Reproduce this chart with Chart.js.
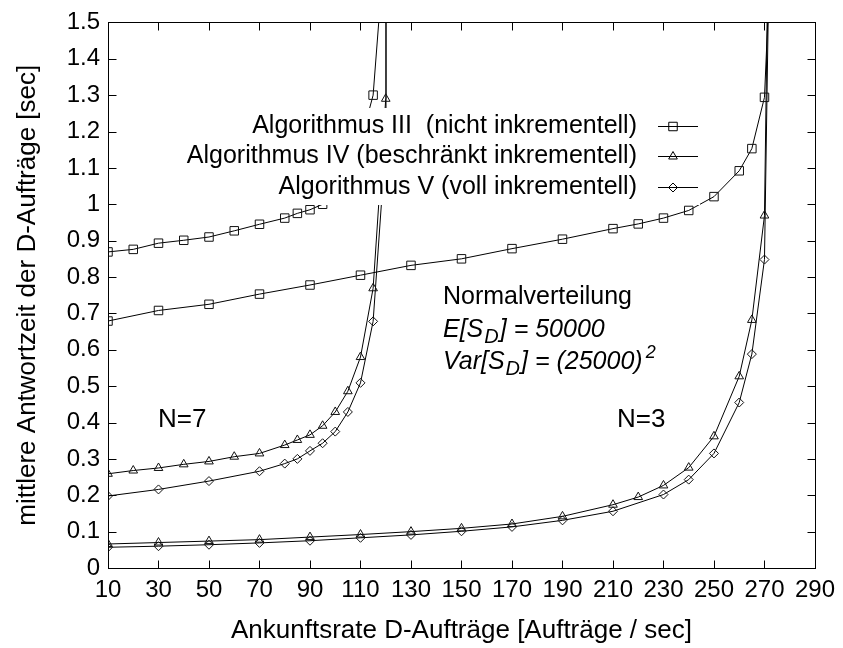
<!DOCTYPE html>
<html>
<head>
<meta charset="utf-8">
<script src="https://cdn.jsdelivr.net/npm/chart.js@4.4.0/dist/chart.umd.min.js"></script>
<style>
  html, body { margin: 0; padding: 0; background: #fff; }
  #wrap { width: 843px; height: 648px; }
</style>
</head>
<body>
<div id="wrap"><canvas id="antwortChart" width="843" height="648"></canvas></div>
<script>
// Werte
const xTicks = [10, 30, 50, 70, 90, 110, 130, 150, 170, 190, 210, 230, 250, 270, 290];

// N=7
const n7AlgIIIx = [10, 20, 30, 40, 50, 60, 70, 80, 85, 90, 95, 100, 105, 110, 115, 120];
const n7AlgIIIy = [0.869, 0.876, 0.893, 0.901, 0.910, 0.927, 0.945, 0.962, 0.975, 0.985, 1.00, 1.03, 1.08, 1.17, 1.30, 1.75];
const n7AlgIVx = [10, 20, 30, 40, 50, 60, 70, 80, 85, 90, 95, 100, 105, 110, 115, 120, 120.1];
const n7AlgIVy = [0.259, 0.268, 0.275, 0.285, 0.293, 0.306, 0.315, 0.338, 0.352, 0.366, 0.391, 0.429, 0.486, 0.580, 0.769, 1.29, 4];
const n7AlgVx = [10, 30, 50, 70, 80, 85, 90, 95, 100, 105, 110, 115, 120, 120.1];
const n7AlgVy = [0.198, 0.216, 0.239, 0.266, 0.287, 0.300, 0.322, 0.343, 0.375, 0.429, 0.509, 0.678, 1.17, 4];

// N=3
const n3AlgIIIx = [10, 30, 50, 70, 90, 110, 130, 150, 170, 190, 210, 220, 230, 240, 250, 260, 265, 270, 275];
const n3AlgIIIy = [0.679, 0.708, 0.725, 0.753, 0.778, 0.805, 0.832, 0.850, 0.878, 0.904, 0.933, 0.946, 0.962, 0.983, 1.021, 1.092, 1.153, 1.294, 2.1];
const n3AlgIVx = [10, 30, 50, 70, 90, 110, 130, 150, 170, 190, 210, 220, 230, 240, 250, 260, 265, 270, 273];
const n3AlgIVy = [0.066, 0.070, 0.074, 0.078, 0.085, 0.092, 0.100, 0.109, 0.121, 0.142, 0.174, 0.195, 0.227, 0.276, 0.362, 0.527, 0.682, 0.969, 2.5];
const n3AlgVx = [10, 30, 50, 70, 90, 110, 130, 150, 170, 190, 210, 230, 240, 250, 260, 265, 270, 273];
const n3AlgVy = [0.057, 0.060, 0.064, 0.069, 0.075, 0.083, 0.091, 0.101, 0.113, 0.131, 0.156, 0.202, 0.243, 0.315, 0.455, 0.588, 0.848, 2.2];

const legendLabels = [
    'Algorithmus III  (nicht inkrementell)',
    'Algorithmus IV (beschränkt inkrementell)',
    'Algorithmus V (voll inkrementell)'
];

const FONT = '"Liberation Sans", Arial, Helvetica, sans-serif';

const markerStyles = [
    { pointStyle: 'rect', radius: 6 },
    { pointStyle: 'triangle', radius: 5 },
    { pointStyle: 'rectRot', radius: 4.5 }
];

function toPoints(xs, ys) {
    return xs.map((x, i) => ({ x: x, y: ys[i] }));
}

function makeDataset(label, xs, ys, style) {
    return {
        label: label,
        data: toPoints(xs, ys),
        borderColor: '#000',
        borderWidth: 1,
        backgroundColor: 'rgba(0,0,0,0)',
        pointStyle: style.pointStyle,
        pointRadius: style.radius,
        pointHoverRadius: style.radius,
        pointBorderColor: '#111',
        pointBorderWidth: 1,
        pointBackgroundColor: 'rgba(0,0,0,0)',
        tension: 0,
        fill: false
    };
}

// eigene Marker fuer die Legende (wie Chart.js Formen)
function drawMarker(ctx, style, x, y) {
    const r = style.radius;
    ctx.beginPath();
    if (style.pointStyle === 'rect') {
        const s = Math.SQRT1_2 * r;
        ctx.rect(x - s, y - s, 2 * s, 2 * s);
    } else if (style.pointStyle === 'triangle') {
        ctx.moveTo(x, y - r);
        ctx.lineTo(x + Math.sin(2 * Math.PI / 3) * r, y - Math.cos(2 * Math.PI / 3) * r);
        ctx.lineTo(x + Math.sin(4 * Math.PI / 3) * r, y - Math.cos(4 * Math.PI / 3) * r);
        ctx.closePath();
    } else {
        ctx.moveTo(x - r, y);
        ctx.lineTo(x, y - r);
        ctx.lineTo(x + r, y);
        ctx.lineTo(x, y + r);
        ctx.closePath();
    }
    ctx.stroke();
}

// Legende mit weissem Hintergrund und Beschriftungen
const annotationPlugin = {
    id: 'annotations',
    afterDatasetsDraw(chart) {
        const ctx = chart.ctx;
        ctx.save();

        // opake Legendenbox
        ctx.fillStyle = '#fff';
        ctx.fillRect(180, 108, 520, 97);

        ctx.font = '25px ' + FONT;
        ctx.fillStyle = '#000';
        ctx.textAlign = 'right';
        ctx.textBaseline = 'middle';
        const rowsY = [126, 156, 187];
        legendLabels.forEach((txt, i) => {
            ctx.fillText(txt, 637, rowsY[i]);
            ctx.strokeStyle = '#000';
            ctx.lineWidth = 1;
            ctx.beginPath();
            ctx.moveTo(658, rowsY[i] + 0.5);
            ctx.lineTo(698, rowsY[i] + 0.5);
            ctx.stroke();
            drawMarker(ctx, markerStyles[i], 673, rowsY[i] + 0.5);
        });

        // Verteilungsangaben
        ctx.textAlign = 'left';
        ctx.font = '25px ' + FONT;
        ctx.fillText('Normalverteilung', 443, 297);

        const italic = 'italic 25px ' + FONT;
        const small = 'italic 20px ' + FONT;
        let x = 443;
        ctx.font = italic;
        ctx.fillText('E[S', x, 330);
        x += ctx.measureText('E[S').width + 1;
        ctx.font = small;
        ctx.fillText('D', x, 337);
        x += ctx.measureText('D').width + 1;
        ctx.font = italic;
        ctx.fillText('] = 50000', x, 330);

        x = 443;
        ctx.fillText('Var[S', x, 362);
        x += ctx.measureText('Var[S').width + 1;
        ctx.font = small;
        ctx.fillText('D', x, 369);
        x += ctx.measureText('D').width + 1;
        ctx.font = italic;
        ctx.fillText('] = (25000)', x, 362);
        x += ctx.measureText('] = (25000)').width;
        ctx.font = 'italic 18px ' + FONT;
        ctx.fillText('2', x + 3, 353);

        ctx.font = '26px ' + FONT;
        ctx.fillText('N=7', 158, 420);
        ctx.fillText('N=3', 617, 420);

        ctx.restore();
    }
};

// Rahmen mit nach innen gerichteten Tickmarken (gnuplot-Stil)
const framePlugin = {
    id: 'frame',
    afterDraw(chart) {
        const ctx = chart.ctx;
        const area = chart.chartArea;
        const xs = chart.scales.x;
        const ys = chart.scales.y;
        const tl = 8;
        ctx.save();
        ctx.strokeStyle = '#000';
        ctx.lineWidth = 1;
        const l = Math.round(area.left) + 0.5;
        const r = Math.round(area.right) + 0.5;
        const t = Math.round(area.top) + 0.5;
        const b = Math.round(area.bottom) + 0.5;
        ctx.strokeRect(l, t, r - l, b - t);
        ctx.beginPath();
        xs.ticks.forEach(tk => {
            const px = Math.round(xs.getPixelForValue(tk.value)) + 0.5;
            if (px <= l + 1 || px >= r - 1) return;
            ctx.moveTo(px, b); ctx.lineTo(px, b - tl);
            ctx.moveTo(px, t); ctx.lineTo(px, t + tl);
        });
        ys.ticks.forEach(tk => {
            const py = Math.round(ys.getPixelForValue(tk.value)) + 0.5;
            if (py <= t + 1 || py >= b - 1) return;
            ctx.moveTo(l, py); ctx.lineTo(l + tl, py);
            ctx.moveTo(r, py); ctx.lineTo(r - tl, py);
        });
        ctx.stroke();
        ctx.restore();
    }
};

const ctx = document.getElementById('antwortChart');

new Chart(ctx, {
    type: 'line',
    data: {
        datasets: [
            makeDataset('N=7 III', n7AlgIIIx, n7AlgIIIy, markerStyles[0]),
            makeDataset('N=7 IV', n7AlgIVx, n7AlgIVy, markerStyles[1]),
            makeDataset('N=7 V', n7AlgVx, n7AlgVy, markerStyles[2]),
            makeDataset('N=3 III', n3AlgIIIx, n3AlgIIIy, markerStyles[0]),
            makeDataset('N=3 IV', n3AlgIVx, n3AlgIVy, markerStyles[1]),
            makeDataset('N=3 V', n3AlgVx, n3AlgVy, markerStyles[2])
        ]
    },
    options: {
        responsive: false,
        animation: false,
        devicePixelRatio: 1,
        layout: {
            padding: { left: 0, top: 19, right: 23, bottom: 0 }
        },
        plugins: {
            legend: { display: false },
            tooltip: { enabled: false },
            title: { display: false }
        },
        scales: {
            x: {
                type: 'linear',
                min: 10,
                max: 290,
                afterBuildTicks: scale => {
                    scale.ticks = xTicks.map(v => ({ value: v }));
                },
                afterFit: scale => { scale.height = 80; },
                grid: { display: false, drawTicks: false },
                border: { display: false },
                ticks: {
                    autoSkip: false,
                    maxRotation: 0,
                    padding: 8,
                    color: '#000',
                    font: { family: FONT, size: 24 }
                },
                title: {
                    display: true,
                    text: 'Ankunftsrate D-Aufträge [Aufträge / sec]',
                    color: '#000',
                    font: { family: FONT, size: 26 },
                    padding: { top: 0, bottom: 2 }
                }
            },
            y: {
                type: 'linear',
                min: 0,
                max: 1.5,
                afterFit: scale => { scale.width = 108; },
                grid: { display: false, drawTicks: false },
                border: { display: false },
                ticks: {
                    stepSize: 0.1,
                    padding: 8,
                    color: '#000',
                    font: { family: FONT, size: 24 },
                    callback: value => String(+value.toFixed(1))
                },
                title: {
                    display: true,
                    text: 'mittlere Antwortzeit der D-Aufträge [sec]',
                    color: '#000',
                    font: { family: FONT, size: 26 },
                    padding: { top: 12, bottom: 0 }
                }
            }
        }
    },
    plugins: [annotationPlugin, framePlugin]
});
</script>
</body>
</html>
